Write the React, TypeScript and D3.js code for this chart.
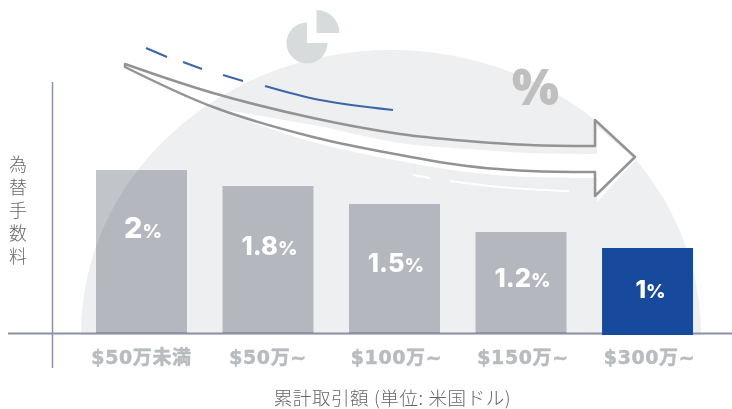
import React from "react";
import * as d3 from "d3";

const categories = ["$50万未満", "$50万~", "$100万~", "$150万~", "$300万~"];
const fees = [2, 1.8, 1.5, 1.2, 1];
const feeDomain = [0, 1, 1.2, 1.5, 1.8, 2];
const feeRange = [334, 248, 232, 204, 186, 170];
const labelBaselines = [238, 255, 272, 287, 298];
const yTitle = "為替手数料";
const xTitle = "累計取引額 (単位: 米国ドル)";

type P = [number, number];
const arrowUpper: P[] = [[125, 64], [213, 93], [313, 118], [400, 134], [467, 141], [530, 145], [595, 146]];
const arrowLower: P[] = [[595, 172], [530, 171], [467, 166], [400, 155], [313, 137], [213, 107], [125, 67]];
const arrowHead: P[] = [[595, 146], [595, 120], [635, 157], [595, 196], [595, 172]];
const bandUpper: P[] = [[208, 107], [313, 125], [400, 143], [467, 149], [530, 153], [597, 154]];
const bandHead: P[] = [[597, 154], [597, 127], [636, 160], [597, 202], [597, 178]];
const bandLower: P[] = [[597, 178], [530, 177], [467, 172], [400, 161], [313, 142], [208, 107]];
const blueSegments: P[][] = [
  [[146, 48], [167, 57]],
  [[183, 62], [202, 69]],
  [[223, 75], [243, 81]],
  [[265, 86], [320, 100], [393, 110]],
];
const whiteSegments: P[][] = [
  [[413, 175], [430, 178]],
  [[450, 181], [500, 187], [569, 191]],
];

const x = d3.scaleBand<string>().domain(categories).range([96, 693]).paddingInner(0.281);
const y = d3.scaleLinear().domain(feeDomain).range(feeRange);
const curve = d3.line().curve(d3.curveCatmullRom.alpha(0.5));
const straight = d3.line();
const closedShape = (a: P[], h: P[], b: P[]) =>
  (curve(a) as string) +
  (straight(h) as string).replace(/^M[^L]*/, "") +
  (curve(b) as string).replace(/^M[^C]*/, "") +
  "Z";
const arrowPath = closedShape(arrowUpper, arrowHead, arrowLower);
const bandPath = closedShape(bandUpper, bandHead, bandLower);
const pieBig = d3.arc()({ innerRadius: 0, outerRadius: 20.5, startAngle: Math.PI / 2, endAngle: 2 * Math.PI, cornerRadius: 2 } as any) as string;
const pieSmall = d3.arc()({ innerRadius: 0, outerRadius: 23, startAngle: 0, endAngle: Math.PI / 2, cornerRadius: 2 } as any) as string;

const latin = "'Inter', 'Noto Sans CJK JP', sans-serif";
const tickFont = "'DejaVu Sans', 'Noto Sans CJK JP', sans-serif";
const cjk = "'Noto Sans CJK JP', sans-serif";

export default function App() {
  return (
    <svg width={732} height={409} style={{ position: "fixed", left: 0, top: 0, background: "#fff" }}>
      <ellipse cx={391} cy={334} rx={310} ry={284} fill="#eeeff1" />
      <rect x={0} y={335} width={732} height={74} fill="#fff" />
      <g transform="translate(307,43)"><path d={pieBig} fill="#d8dbdc" /></g>
      <g transform="translate(316.5,33)"><path d={pieSmall} fill="#d8dbdc" /></g>
      <text x={535.5} y={105} textAnchor="middle" fontFamily="'Open Sans', sans-serif" fontWeight={800} fontSize={50} fill="#bfbfbf">%</text>
      <path d={bandPath} fill="#fff" />
      <path d={arrowPath} fill="none" stroke="#929395" strokeWidth={2.5} strokeLinejoin="round" />
      {blueSegments.map((s, i) => (
        <path key={i} d={curve(s) as string} fill="none" stroke="#3d66a6" strokeWidth={2} />
      ))}
      {whiteSegments.map((s, i) => (
        <path key={i} d={curve(s) as string} fill="none" stroke="#fff" strokeWidth={2} />
      ))}
      <line x1={8} x2={732} y1={333.5} y2={333.5} stroke="#8b92a3" strokeWidth={2} />
      <line x1={52.5} x2={52.5} y1={82} y2={368} stroke="#8b92a3" strokeWidth={1.5} />
      {categories.map((c, i) => {
        const last = i === categories.length - 1;
        const center = x(c)! + x.bandwidth() / 2;
        return (
          <g key={c}>
            <rect
              x={x(c)}
              y={y(fees[i])}
              width={x.bandwidth()}
              height={y(0) - y(fees[i]) + (last ? 1 : -1)}
              fill={last ? "#174a9c" : "#c1c4c8"}
              style={last ? undefined : { mixBlendMode: "multiply" }}
            />
            <text x={center + (last ? 3 : 1.5)} y={labelBaselines[i]} textAnchor="middle" fontFamily={latin} fontWeight={800} fill="#fff">
              <tspan fontSize={last ? 24 : i === 0 ? 29 : 25.5}>{fees[i]}</tspan>
              <tspan fontSize={19}>%</tspan>
            </text>
            <text x={center + (i > 1 ? 2 : 0)} y={364} textAnchor="middle" fontFamily={tickFont} fontWeight={700} fontSize={19} letterSpacing={0.6} stroke="#b8bcbf" strokeWidth={0.5} fill="#b8bcbf">
              {c}
            </text>
          </g>
        );
      })}
      <text x={18} y={155} style={{ writingMode: "vertical-rl" }} textAnchor="start" dominantBaseline="central" fontFamily={cjk} fontWeight={300} fontSize={18} letterSpacing={5} fill="#666">
        {yTitle}
      </text>
      <text x={392.5} y={404.5} textAnchor="middle" fontFamily={cjk} fontWeight={300} fontSize={18.5} letterSpacing={0.6} fill="#666">
        {xTitle}
      </text>
    </svg>
  );
}
